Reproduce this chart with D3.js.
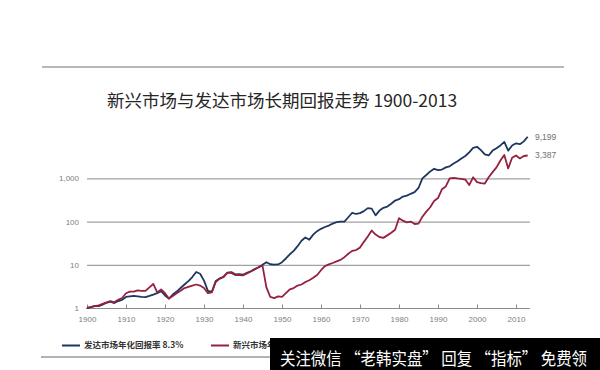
<!DOCTYPE html>
<html>
<head>
<meta charset="utf-8">
<script src="https://cdn.jsdelivr.net/npm/d3@7"></script>
<style>
  html, body { margin: 0; padding: 0; background: #fff; }
  svg { display: block; }
  .tick text { font-family: "Liberation Sans", Arial, sans-serif; font-size: 8px; fill: #808080; }
</style>
</head>
<body>
<svg id="chart" width="600" height="370"></svg>
<script>
(function(){
'use strict';

// ---- data (cumulative value of 1 invested in 1900, log scale) ----
var years = d3.range(1900, 2014);

var developed = [
    1.00, 1.05, 1.12, 1.10, 1.20, 1.32, 1.40, 1.30, 1.45, 1.55,
    1.80, 1.85, 1.90, 1.85, 1.80, 1.78, 1.90, 2.05, 2.20, 2.45,
    1.95, 1.65, 2.05, 2.40, 2.90, 3.50, 4.20, 5.20, 6.80, 6.20,
    4.30, 2.50, 2.35, 4.20, 4.80, 5.30, 6.60, 6.80, 6.00, 6.10,
    5.90, 6.50, 7.10, 8.00, 8.80, 10.0, 11.5, 10.3, 10.1, 10.2,
    11.5, 14.0, 17.5, 21.0, 27.0, 36.0, 43.0, 38.0, 50.0, 60.0,
    68.0, 75.0, 81.0, 90.0, 97.0, 100, 100, 126, 160, 150,
    157, 175, 205, 200, 139, 180, 208, 223, 260, 307,
    330, 380, 400, 440, 480, 600, 1000, 1200, 1450, 1670,
    1560, 1600, 1800, 1900, 2200, 2500, 2900, 3300, 4000, 5100,
    5400, 4500, 3600, 3400, 4400, 5000, 5800, 7000, 4400, 5800,
    6500, 6200, 7200, 9199
];

var emerging = [
    1.00, 1.05, 1.10, 1.15, 1.25, 1.35, 1.45, 1.35, 1.55, 1.70,
    2.20, 2.40, 2.40, 2.55, 2.50, 2.50, 3.00, 3.60, 2.30, 2.70,
    2.20, 1.65, 1.90, 2.20, 2.50, 2.90, 3.10, 3.30, 3.50, 3.30,
    2.90, 2.20, 2.30, 4.00, 4.80, 5.20, 6.50, 6.50, 5.80, 5.80,
    5.70, 6.30, 7.00, 7.80, 8.80, 9.60, 3.00, 1.80, 1.70, 1.85,
    1.80, 2.20, 2.70, 2.90, 3.30, 3.50, 4.00, 4.40, 5.00, 5.80,
    7.50, 9.30, 10.2, 11.0, 12.0, 13.0, 15.0, 18.0, 21.0, 22.0,
    25.0, 34.0, 45.0, 62.0, 50.0, 44.0, 42.0, 48.0, 55.0, 65.0,
    120, 105, 96, 100, 88, 90, 130, 170, 215, 300,
    350, 560, 650, 1000, 1030, 1000, 980, 940, 700, 1060,
    820, 780, 760, 1060, 1400, 1800, 2600, 3500, 1700, 3000,
    3400, 2900, 3300, 3387
];

var xTicks = d3.range(1900, 2011, 10);
var yTicks = [1, 10, 100, 1000];
var endLabels = ["9,199", "3,387"];

var title = "新兴市场与发达市场长期回报走势 1900-2013";
var legendLabels = ["发达市场年化回报率 8.3%", "新兴市场年化回报率 7.4%"];
var watermark = "关注微信 “老韩实盘” 回复 “指标” 免费领";

var colors = ["#1e3760", "#96203f"];

// ---- layout ----
var svg = d3.select("#chart");
var x = d3.scaleLinear().domain([1900, 2013]).range([87, 527.7]);
var y = d3.scaleLog().domain([1, 10000]).range([308, 135.2]);
var plotRight = 530;

// top and bottom rules
svg.append("line")
    .attr("x1", 42).attr("x2", 564).attr("y1", 67).attr("y2", 67)
    .attr("stroke", "#a0a0a0").attr("stroke-width", 1.5);
svg.append("line")
    .attr("x1", 41).attr("x2", 600).attr("y1", 357).attr("y2", 357)
    .attr("stroke", "#9a9a9a").attr("stroke-width", 1.5);

svg.append("text")
    .attr("x", 107).attr("y", 107)
    .attr("font-family", "'Noto Sans CJK SC', sans-serif")
    .attr("font-size", 17.5)
    .attr("fill", "#262626")
    .text(title);

// gridlines + y labels
var yAxis = d3.axisLeft(y)
    .tickValues(yTicks)
    .tickFormat(d3.format(","))
    .tickSize(-(plotRight - x(1900)))
    .tickPadding(8);
var gy = svg.append("g")
    .attr("transform", "translate(" + x(1900) + ",0)")
    .call(yAxis);
gy.select(".domain").remove();
gy.selectAll(".tick line").attr("stroke", "#8a8a8a").attr("stroke-width", 1);

// x axis with small upward ticks
var xAxis = d3.axisBottom(x)
    .tickValues(xTicks)
    .tickFormat(d3.format("d"))
    .tickSizeInner(-4)
    .tickSizeOuter(0)
    .tickPadding(8);
var gx = svg.append("g")
    .attr("transform", "translate(0," + (y(1) + 0.5) + ")")
    .call(xAxis);
gx.select(".domain").attr("d", "M" + (x(1900) - 1) + ",0H" + plotRight).attr("stroke", "#8a8a8a");
gx.selectAll(".tick line").attr("stroke", "#8a8a8a");

// series lines
var line = d3.line()
    .x(function(d, i) { return x(years[i]); })
    .y(function(d) { return y(d); });

[developed, emerging].forEach(function(series, s) {
    svg.append("path")
        .datum(series)
        .attr("fill", "none")
        .attr("stroke", colors[s])
        .attr("stroke-width", 1.8)
        .attr("stroke-linejoin", "round")
        .attr("d", line);
});

// end value labels
[developed, emerging].forEach(function(series, s) {
    svg.append("text")
        .attr("x", 535)
        .attr("y", y(series[series.length - 1]))
        .attr("dy", "0.35em")
        .attr("font-family", "'Liberation Sans', Arial, sans-serif")
        .attr("font-size", 8.5)
        .attr("fill", "#707070")
        .text(endLabels[s]);
});

// legend
var legendX = [62, 211];
legendLabels.forEach(function(label, i) {
    var g = svg.append("g").attr("transform", "translate(" + legendX[i] + ",345.5)");
    g.append("line")
        .attr("x1", 0).attr("x2", 18)
        .attr("stroke", colors[i]).attr("stroke-width", 2);
    g.append("text")
        .attr("x", 22).attr("dy", "0.35em")
        .attr("font-family", "'Noto Sans CJK SC', sans-serif")
        .attr("font-size", 8.5)
        .attr("font-weight", 700)
        .attr("fill", "#333")
        .text(label);
});

// watermark box over the bottom right (covers the end of the second legend entry)
svg.append("rect")
    .attr("x", 270).attr("y", 338).attr("width", 330).attr("height", 32)
    .attr("fill", "#000");
svg.append("text")
    .attr("x", 280).attr("y", 365)
    .attr("font-family", "'Noto Sans CJK SC', sans-serif")
    .attr("font-size", 17)
    .attr("fill", "#fff")
    .attr("textLength", 307)
    .attr("lengthAdjust", "spacingAndGlyphs")
    .text(watermark);

})();
</script>
</body>
</html>
